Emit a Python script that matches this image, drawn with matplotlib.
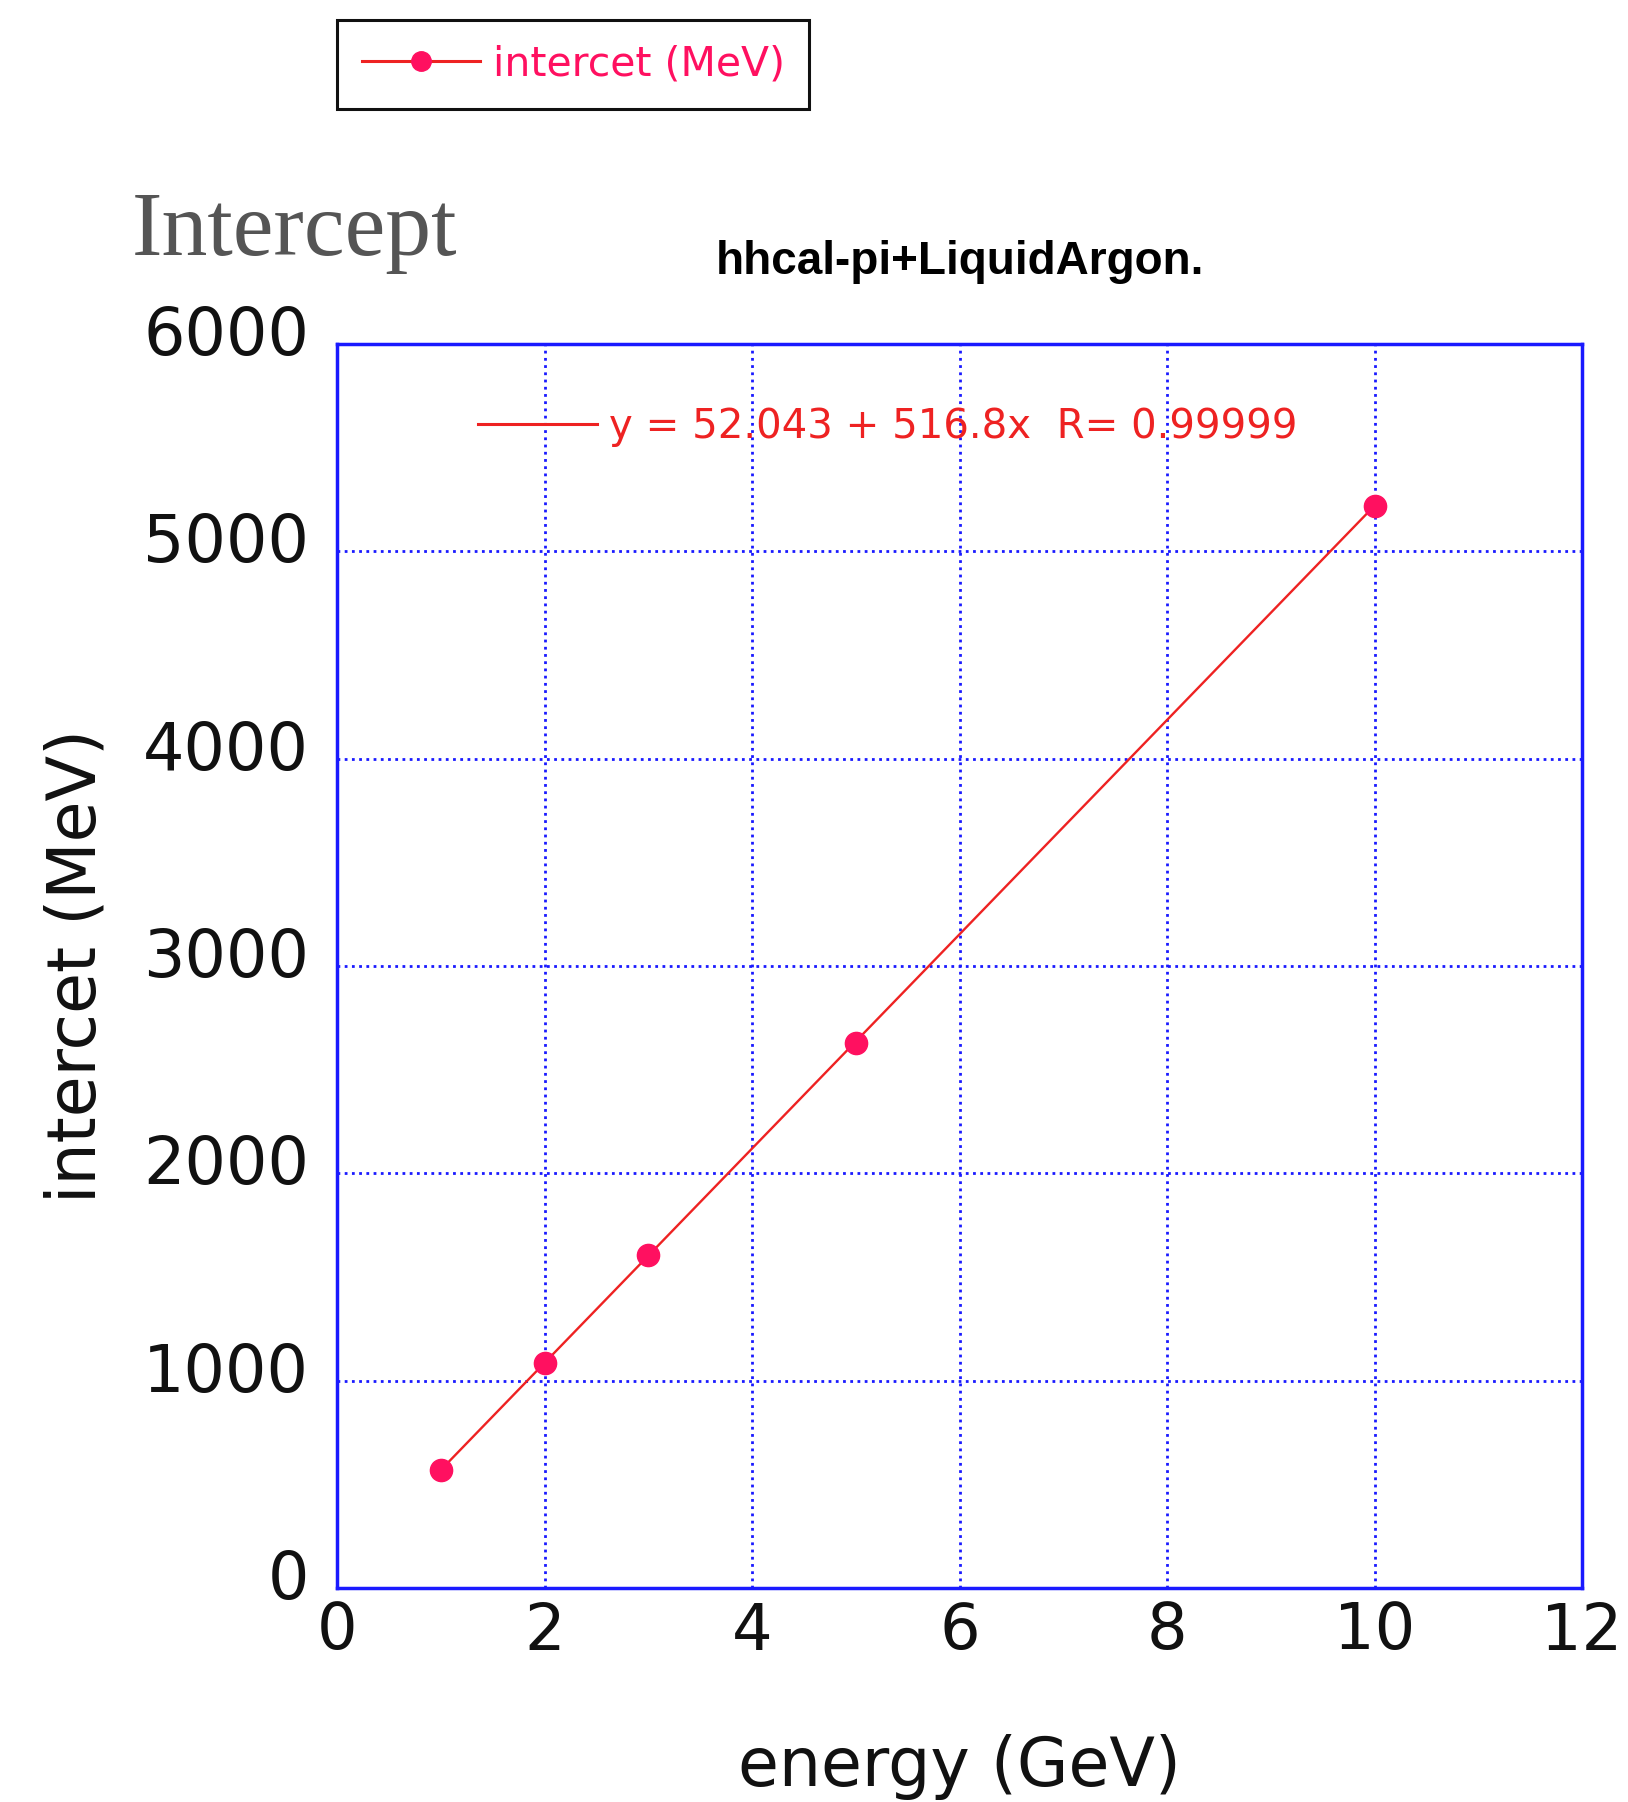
import matplotlib
matplotlib.use("Agg")
import matplotlib.pyplot as plt
import matplotlib.transforms as mtransforms
from matplotlib.lines import Line2D
import numpy as np

# Beam energy (GeV) and fitted intercept (MeV)
energy = [1, 2, 3, 5, 10]
intercept = [570, 1085, 1605, 2630, 5220]

# Linear fit parameters
fit_a = 52.043
fit_b = 516.8
fit_r = 0.99999

x_ticks = [0, 2, 4, 6, 8, 10, 12]
y_ticks = [0, 1000, 2000, 3000, 4000, 5000, 6000]

title = "hhcal-pi+LiquidArgon."
heading = "Intercept"
series_label = "intercet (MeV)"
x_label = "energy (GeV)"
y_label = "intercet (MeV)"

W, H, DPI = 1628, 1802, 100
fig = plt.figure(figsize=(W / DPI, H / DPI), dpi=DPI)
ax = fig.add_axes([337 / W, 1 - 1588 / H, (1582 - 337) / W, (1588 - 344) / H])

blue = "#1a1aff"
red = "#ee2222"
pink = "#ff1060"

# fitted line over the measured range
xf = np.array([min(energy), max(energy)], dtype=float)
fit_line, = ax.plot(xf, fit_a + fit_b * xf, color=red, lw=1.7, zorder=3,
                    label=f"y = {fit_a:.3f} + {fit_b:g}x  R= {fit_r:.5f}")
ax.plot(energy, intercept, ls="none", marker="o", ms=16, color=pink,
        mec=pink, zorder=4)

ax.set_xlim(0, 12)
ax.set_ylim(0, 6000)
ax.set_xticks(x_ticks)
ax.set_yticks(y_ticks)
ax.set_xticklabels([str(v) for v in x_ticks])
ax.set_yticklabels([str(v) for v in y_ticks])
ax.tick_params(length=0, colors="#111111")
ax.tick_params(axis="x", pad=9, labelsize=46)
ax.tick_params(axis="y", pad=20, labelsize=47)
for lbl in ax.get_yticklabels():
    lbl.set_transform(lbl.get_transform() +
                      mtransforms.ScaledTranslation(0, 0.14, fig.dpi_scale_trans))

ax.grid(True, color=blue, ls=(0, (1, 1.6)), lw=2.0)
for sp in ax.spines.values():
    sp.set_color(blue)
    sp.set_linewidth(2.5)

ax.set_xlabel(x_label, fontsize=48, color="#111111")
ax.xaxis.set_label_coords(0.5, -0.117)
ax.set_ylabel(y_label, fontsize=48, color="#111111")
ax.yaxis.set_label_coords(-0.183, 0.5)

ax.text(0.5, (1588 - 262) / 1244, title, transform=ax.transAxes,
        ha="center", va="center", fontsize=33, fontweight="bold",
        family=["Liberation Sans Narrow", "Liberation Sans", "DejaVu Sans"],
        color="#000000")

fig.text(132 / W, 1 - 255 / H, heading, ha="left", va="baseline",
         fontsize=66, family=["Liberation Serif", "DejaVu Serif"],
         color="#555555")

# fit legend inside the plot area
leg_fit = ax.legend(handles=[fit_line], loc="center left",
                    bbox_to_anchor=((478 - 337) / 1245, (1588 - 427) / 1244),
                    frameon=False, fontsize=29, handlelength=2.95,
                    handletextpad=0.3, borderpad=0, borderaxespad=0)
for t in leg_fit.get_texts():
    t.set_color(red)
for ln in leg_fit.get_lines():
    ln.set_linewidth(2.2)

# series legend above the plot
handle = Line2D([], [], color=red, lw=2.2, marker="o", ms=14, mfc=pink, mec=pink)
leg = fig.legend(handles=[handle], labels=[series_label], loc="upper left",
                 bbox_to_anchor=(337 / W, 1 - 20 / H), fontsize=29.5,
                 handlelength=2.9, handletextpad=0.3, borderpad=0.6,
                 borderaxespad=0, fancybox=False, framealpha=1)
leg.get_frame().set_edgecolor("#111111")
leg.get_frame().set_linewidth(2.2)
for t in leg.get_texts():
    t.set_color(pink)

fig.savefig("out.png", dpi=DPI)
